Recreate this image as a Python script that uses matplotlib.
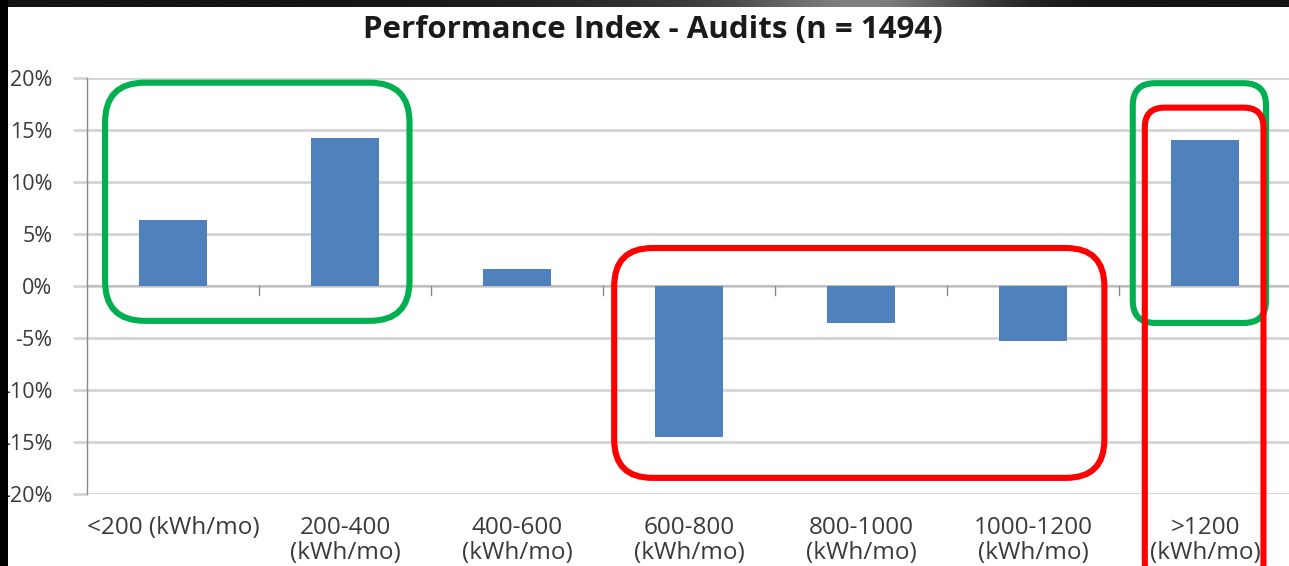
import numpy as np
import matplotlib
matplotlib.use("Agg")
import matplotlib.pyplot as plt
from matplotlib.patches import FancyBboxPatch, Rectangle
from matplotlib.transforms import IdentityTransform, ScaledTranslation
from matplotlib.ticker import FuncFormatter

# ---- data ----
categories = ["<200 (kWh/mo)", "200-400\n(kWh/mo)", "400-600\n(kWh/mo)", "600-800\n(kWh/mo)",
              "800-1000\n(kWh/mo)", "1000-1200\n(kWh/mo)", ">1200\n(kWh/mo)"]
values = [6.35, 14.2, 1.6, -14.5, -3.55, -5.25, 14.0]  # percent
title = "Performance Index - Audits (n = 1494)"

# annotation boxes: (x0, x1, y0, y1) in category / percent units
boxes_green = [(-0.395, 1.375, -3.35, 19.55), (5.58, 6.355, -3.55, 19.5)]
boxes_red = [(2.565, 5.415, -18.45, 3.65), (5.65, 6.34, -28.5, 17.15)]

FONT = "Open Sans"
W, H, DPI = 1289, 566, 100
fig = plt.figure(figsize=(W / DPI, H / DPI), dpi=DPI, facecolor="white")

ax_left, ax_right = 87, 1291
ax_top, ax_bot = 78, 494
ax = fig.add_axes([ax_left / W, 1 - ax_bot / H, (ax_right - ax_left) / W, (ax_bot - ax_top) / H])

x = np.arange(len(categories))
ax.bar(x, values, width=0.39, color="#4F81BD", zorder=3)

ax.set_xlim(-0.5, len(categories) - 0.5)
ax.set_ylim(-20, 20)
ax.set_yticks(np.arange(-20, 21, 5))
ax.yaxis.set_major_formatter(FuncFormatter(lambda v, p: f"{int(v)}%"))
ax.grid(axis="y", color="#d4d4d4", linewidth=2.0, zorder=0)
ax.set_axisbelow(True)

for s in ["top", "right", "bottom"]:
    ax.spines[s].set_visible(False)
ax.spines["left"].set_color("#8c8c8c")
ax.spines["left"].set_linewidth(1.0)

ax.tick_params(axis="y", length=10, width=2.0, color="#d4d4d4", pad=15,
               labelsize=15.5, labelcolor="#3a3a3a")
for lbl in ax.get_yticklabels():
    lbl.set_fontfamily(FONT)

# category labels below the plot
ax.set_xticks([])
offset = ScaledTranslation(0, -22 / DPI, fig.dpi_scale_trans)
for i, c in enumerate(categories):
    ax.text(i, -20, c, transform=ax.transData + offset, ha="center", va="top",
            fontsize=17.5, color="#3a3a3a", family=FONT, linespacing=1.06,
            clip_on=False)

# zero axis line with tick marks between categories
ax.axhline(0, color="#bfbfbf", linewidth=1.5, zorder=2)
for b in np.arange(0.5, len(categories) - 0.5, 1.0):
    ax.plot([b, b], [0, -0.85], color="#8c8c8c", linewidth=1.0, zorder=2, clip_on=False)

fig.text(653 / W, 1 - 30 / H, title, ha="center", va="center", fontsize=22.5,
         fontweight="bold", color="#1a1a1a", family=FONT)

# rounded annotation boxes in pixel space
def draw_box(bx, color):
    x0, x1, y0, y1 = bx
    (px0, py0), (px1, py1) = ax.transData.transform([(x0, y0), (x1, y1)])
    w, h = px1 - px0, py1 - py0
    r = 0.1667 * min(w, h)
    if h > 400:
        r = 0.1667 * w
    p = FancyBboxPatch((px0, py0), w, h, boxstyle=f"round,pad=0,rounding_size={r}",
                       transform=IdentityTransform(), fill=False, edgecolor=color,
                       linewidth=4.4, zorder=10, clip_on=False)
    fig.patches.append(p)
    p.set_figure(fig)

for bx in boxes_green:
    draw_box(bx, "#00B050")
for bx in boxes_red:
    draw_box(bx, "#FF0000")

# black slide frame (top strip with highlight, left strip)
frame = fig.add_axes([0, 1 - 7 / H, 1, 7 / H])
xs = np.linspace(0, W, 600)
g = 0.08 + 0.36 * np.exp(-((xs - 870) / 120) ** 2) + 0.12 * np.exp(-((xs - 700) / 200) ** 2)
frame.imshow(np.tile(g, (2, 1)), cmap="gray", vmin=0, vmax=1, aspect="auto",
             extent=[0, W, 0, 1])
frame.set_axis_off()
fig.patches.append(Rectangle((0, 0), 8 / W, 1, transform=fig.transFigure,
                             facecolor="black", edgecolor="none", zorder=20))

fig.savefig("out.png", dpi=DPI, facecolor="white")
